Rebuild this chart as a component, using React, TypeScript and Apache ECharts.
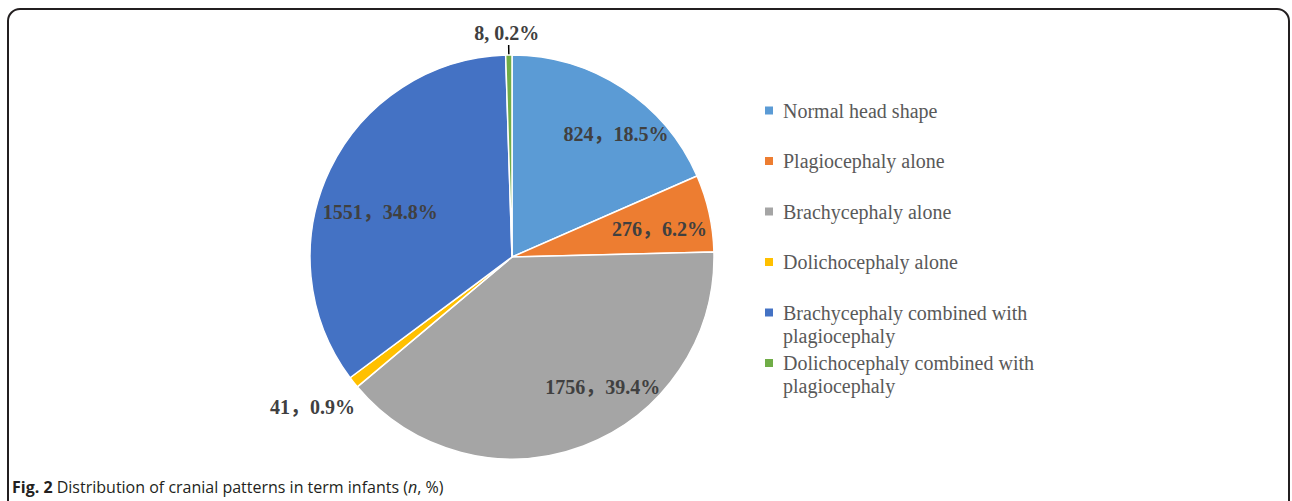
import React, { useEffect, useRef } from "react";
import * as echarts from "echarts";

const categories = [
  "Normal head shape",
  "Plagiocephaly alone",
  "Brachycephaly alone",
  "Dolichocephaly alone",
  "Brachycephaly combined with plagiocephaly",
  "Dolichocephaly combined with plagiocephaly",
];
const counts = [824, 276, 1756, 41, 1551, 8];
const percents = ["18.5", "6.2", "39.4", "0.9", "34.8", "0.2"];

// styles
const colors = ["#5B9BD5", "#ED7D31", "#A5A5A5", "#FFC000", "#4472C4", "#70AD47"];
const separators = ["，", "，", "，", "，", "，", ", "];
const labelOffsets: number[][] = [[47, -36], [46, -5], [54, 33], [-118, 85], [-38, 0], [0, 0]];

export default function App() {
  const ref = useRef<HTMLDivElement>(null);
  useEffect(() => {
    if (!ref.current) return;
    const chart = echarts.init(ref.current, null, { renderer: "svg" });
    const serif = "'Liberation Serif', 'Times New Roman', 'Noto Sans CJK SC', serif";
    const data = categories.map((name, i) => ({
      name,
      value: counts[i],
      itemStyle: { color: colors[i] },
      label:
        i === 5
          ? { position: "outside" as const }
          : { position: "inside" as const, offset: labelOffsets[i] },
      labelLine: i === 5 ? { show: true, length: 10, length2: 0 } : { show: false },
    }));
    chart.setOption({
      animation: false,
      backgroundColor: "#ffffff",
      graphic: [
        {
          type: "rect",
          z: -1,
          shape: { x: 8, y: 9, width: 1281, height: 700, r: 12 },
          style: { fill: "none", stroke: "#231f20", lineWidth: 2 },
          silent: true,
        },
      ],
      title: {
        left: 12,
        top: 479,
        padding: 0,
        text: "{b|Fig. 2} Distribution of cranial patterns in term infants ({i|n}, %)",
        textStyle: {
          fontFamily: "'Open Sans', sans-serif",
          fontSize: 16,
          fontWeight: "normal",
          color: "#231f20",
          rich: {
            b: { fontFamily: "'Open Sans', sans-serif", fontSize: 16, fontWeight: "bold", color: "#231f20" },
            i: { fontFamily: "'Open Sans', sans-serif", fontSize: 16, fontStyle: "italic", color: "#231f20" },
          },
        },
      },
      legend: {
        orient: "vertical",
        left: 763,
        top: 76,
        padding: 0,
        itemGap: -18.5,
        itemWidth: 10,
        itemHeight: 10,
        icon: "rect",
        selectedMode: false,
        formatter: (name: string) =>
          name.indexOf(" with ") >= 0 ? "\n" + name.replace(" with ", " with\n") : "\n" + name + "\n",
        data: categories,
        textStyle: {
          fontFamily: serif,
          fontSize: 20,
          lineHeight: 23,
          color: "#595959",
          padding: [0, 0, 0, 4],
        },
      },
      series: [
        {
          type: "pie",
          center: [512, 257],
          radius: 202,
          startAngle: 90,
          clockwise: true,
          minAngle: 1.8,
          avoidLabelOverlap: false,
          itemStyle: { borderColor: "#ffffff", borderWidth: 1.5 },
          label: {
            show: true,
            fontFamily: serif,
            fontSize: 20,
            fontWeight: "bold",
            color: "#404040",
            formatter: (p: any) => `${counts[p.dataIndex]}${separators[p.dataIndex]}${percents[p.dataIndex]}%`,
          },
          labelLine: { lineStyle: { color: "#000000", width: 1.5 } },
          labelLayout: (p: any) =>
            p.dataIndex === 5 ? { align: "center", verticalAlign: "bottom", dx: 3, dy: -2 } : {},
          emphasis: { disabled: true },
          data,
        },
      ],
    });
    return () => chart.dispose();
  }, []);
  return (
    <div
      ref={ref}
      style={{ position: "absolute", left: 0, top: 0, width: 1292, height: 501 }}
    />
  );
}
